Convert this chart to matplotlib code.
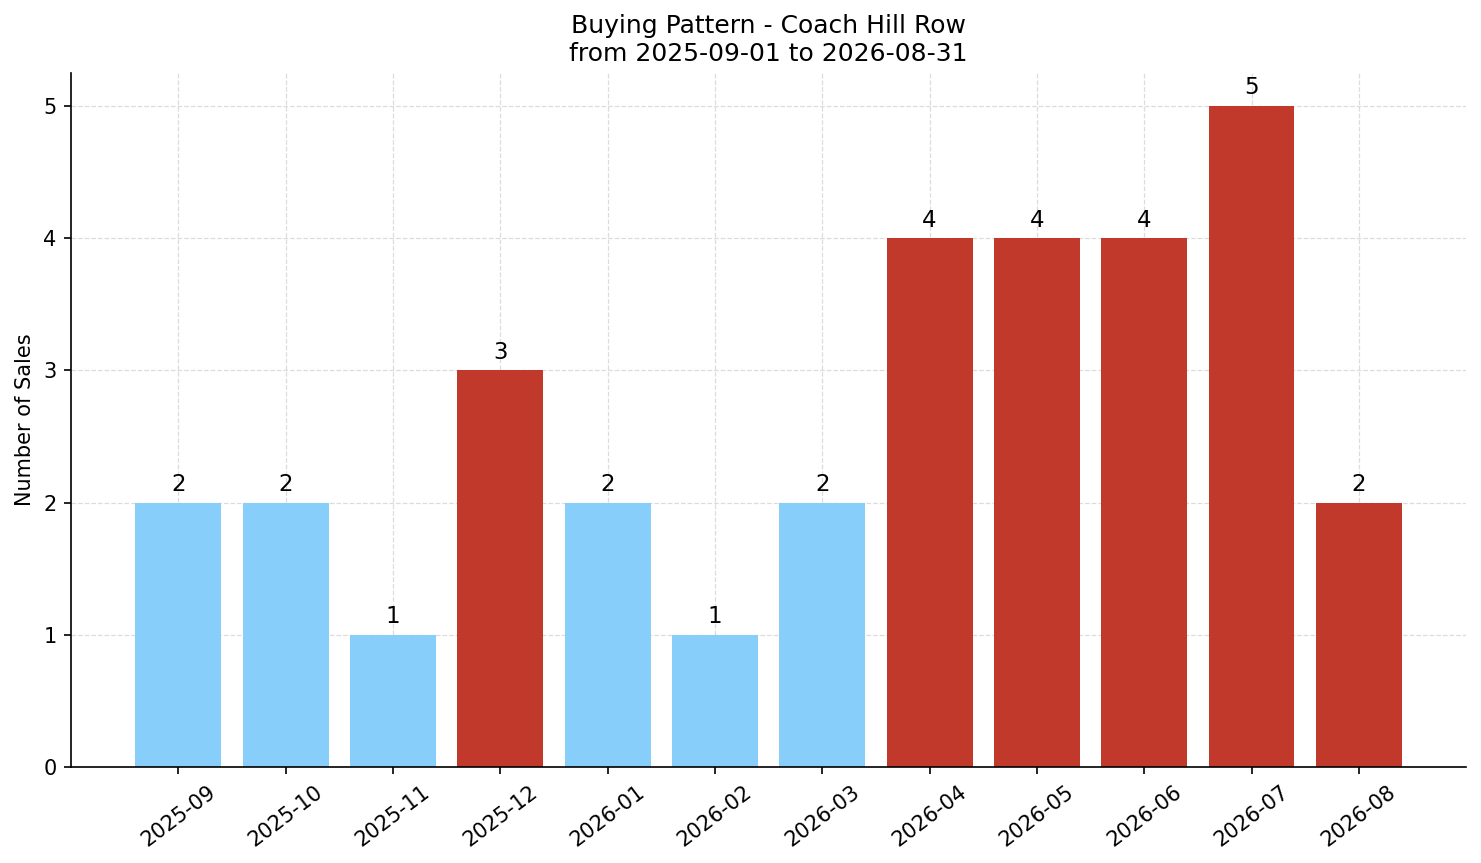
import matplotlib
matplotlib.use("Agg")
import matplotlib.pyplot as plt

months = ["2025-09", "2025-10", "2025-11", "2025-12", "2026-01", "2026-02",
          "2026-03", "2026-04", "2026-05", "2026-06", "2026-07", "2026-08"]
sales = [2, 2, 1, 3, 2, 1, 2, 4, 4, 4, 5, 2]
is_high = [False, False, False, True, False, False, False, True, True, True, True, True]

colors = ["#C0392B" if h else "#87CEFA" for h in is_high]

fig, ax = plt.subplots(figsize=(14.81 / 1.5, 8.63 / 1.5), dpi=150)
fig.subplots_adjust(left=0.048, right=0.990, top=0.9154, bottom=0.1112)
x = range(len(months))
ax.bar(x, sales, color=colors, width=0.8, zorder=2)
for xi, v in zip(x, sales):
    ax.text(xi, v + 0.05, str(v), ha="center", va="bottom", fontsize=11)

ax.set_xticks(list(x))
ax.set_xticklabels(months, rotation=37)
ax.tick_params(axis="both", labelsize=10)
ax.set_ylabel("Number of Sales", fontsize=10)
ax.set_title("Buying Pattern - Coach Hill Row\nfrom 2025-09-01 to 2026-08-31", fontsize=12)
ax.set_ylim(0, 5.25)
ax.set_xlim(-1.0, 12.0)
ax.set_yticks(range(6))
ax.grid(True, linestyle="--", linewidth=0.6, color="#bbbbbb", alpha=0.5, zorder=3)
ax.spines["top"].set_visible(False)
ax.spines["right"].set_visible(False)
fig.savefig("out.png", dpi=150)
